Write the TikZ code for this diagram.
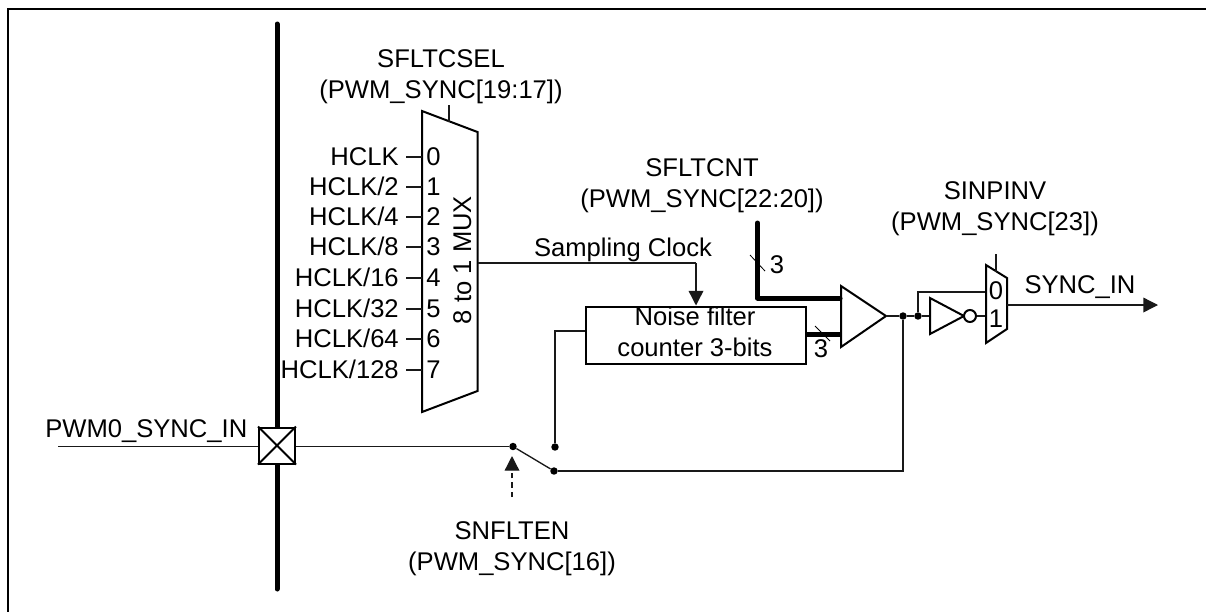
\documentclass[tikz,border=0pt]{standalone}
\usepackage{fontspec}
\setmainfont{Liberation Sans}
\usetikzlibrary{arrows.meta}
\tikzset{
  x=0.75pt,y=-0.75pt,
  lbl/.style={inner sep=0pt,anchor=base,font=\fontsize{19.2}{23.25}\selectfont,align=center},
  wire/.style={line width=1pt,black!90},
  box/.style={line width=1.5pt,draw=black},
  bus/.style={line width=3.75pt,line cap=round,line join=round},
  dot/.style={circle,fill=black,inner sep=0pt,minimum size=5.6pt},
  tick/.style={line width=0.6pt},
  tip/.style={-{Triangle[length=11pt,width=11pt]}},
}
\begin{document}
\begin{tikzpicture}
\useasboundingbox (0,0) rectangle (1206,612);
\coordinate (ftl) at (8,9); \coordinate (ftr) at (1206,9); \coordinate (fbl) at (8,612);
\draw[line width=1.5pt,line cap=butt] (ftr) -- (ftl) -- (fbl);
% bus
\coordinate (bt) at (277,24); \coordinate (bb) at (277,589);
\draw[bus] (bt) -- (bb);
% pad
\node[minimum size=27pt,draw,line width=1.5pt,fill=white,inner sep=0pt] (pad) at (277,445.5) {};
\draw[line width=1.5pt] (pad.north west) -- (pad.south east) (pad.north east) -- (pad.south west);
\coordinate (padin) at (58,446.5);
\draw[wire] (padin) -- (pad.west |- padin);
\node[lbl,anchor=base west] (lpad) at (45,437) {PWM0\_SYNC\_IN};
% mux
\draw[box] (422,111) -- (477.5,132) -- (477.5,391) -- (422,412) -- cycle;
\coordinate (mc) at (449,121.5); \coordinate (mct) at (449,105);
\draw[wire] (mc) -- (mct);
\node[lbl] (ls) at (441,98) {SFLTCSEL\\(PWM\_SYNC[19:17])};
\node[lbl,rotate=90] (lm) at (471,260) {8 to 1 MUX};
\foreach \i/\t/\y in {0/HCLK/157,1/HCLK\slash 2/187,2/HCLK\slash 4/217,3/HCLK\slash 8/247,4/HCLK\slash 16/278,5/HCLK\slash 32/309,6/HCLK\slash 64/339,7/HCLK\slash 128/370}{
  \node[lbl,anchor=base east] (in\i) at (399,\y+8.5) {\t};
  \node[lbl] (n\i) at (433.5,\y+8.5) {\i};
  \draw[wire] (406,\y) -- (422,\y);
}
% noise filter
\node[draw,line width=1.5pt,minimum width=165pt,minimum height=43pt,inner sep=0pt,anchor=north west] (nf) at (585,305.5) {};
\node[lbl] (nft) at (695,356) {Noise filter\\counter 3-bits};
\coordinate (c1) at (696,263);
\draw[wire] (477.5,263) -- (c1);
\draw[wire,tip] (c1) -- (c1 |- nf.north);
\node[lbl] (lsc) at (623,256) {Sampling Clock};
% comparator
\draw[box,fill=white] (841,286) -- (886,316) -- (841,347) -- cycle;
\coordinate (cmpo) at (886,316);
\coordinate (bus1) at (757.5,223); \coordinate (bus2) at (757.5,298);
\draw[bus] (bus1) -- (bus2) -- (840,298);
\draw[line width=3.75pt] (805,334) -- (840,334);
\draw[tick] (750,255) -- (765,271);
\draw[tick] (815,326) -- (830,341);
\node[lbl] (l3a) at (777,273) {3};
\node[lbl] (l3b) at (821,357) {3};
\node[lbl] (lc) at (702,207) {SFLTCNT\\(PWM\_SYNC[22:20])};
% output side
\node[dot] (d1) at (903,316) {};
\node[dot] (d2) at (918,316) {};
\draw[wire] (cmpo) -- (d1) -- (d2) -- (930,316);
\draw[box,fill=white] (930,298) -- (964,316) -- (930,334) -- cycle;
\node[circle,draw,line width=1.5pt,fill=white,inner sep=0pt,minimum size=9pt] (inv) at (970,316) {};
\draw[wire] (inv.east) -- (986,316);
\draw[wire] (d2) -- (918,292) -- (986,292);
% small mux
\draw[box] (986,265) -- (1007,278) -- (1007,329) -- (986,343) -- cycle;
\coordinate (sm) at (996,271.5); \coordinate (smt) at (996,254);
\draw[wire] (sm) -- (smt);
\node[lbl] (n0b) at (996,299) {0};
\node[lbl] (n1b) at (996,327) {1};
\node[lbl] (li) at (995,230) {SINPINV\\(PWM\_SYNC[23])};
\coordinate (so) at (1158,305);
\draw[wire,tip] (1007,305) -- (so);
\node[lbl] (lo) at (1080,293) {SYNC\_IN};
% switch
\node[dot] (s1) at (513,446.5) {};
\node[dot] (s2) at (555,447) {};
\node[dot] (s3) at (554,471) {};
\draw[wire] (pad.east |- padin) -- (s1);
\draw[wire] (s1) -- (s3);
\draw[wire] (s3) -- (903,471) -- (d1);
\draw[wire] (s2) -- (555,331) -- (585,331);
% control
\coordinate (ct) at (512,456); \coordinate (cb) at (512,497);
\draw[wire,dash pattern=on 4pt off 3pt,-{Triangle[length=11pt,width=11pt]}] (cb) -- (ct);
\node[lbl] (ln) at (512,570) {SNFLTEN\\(PWM\_SYNC[16])};
\end{tikzpicture}
\end{document}
